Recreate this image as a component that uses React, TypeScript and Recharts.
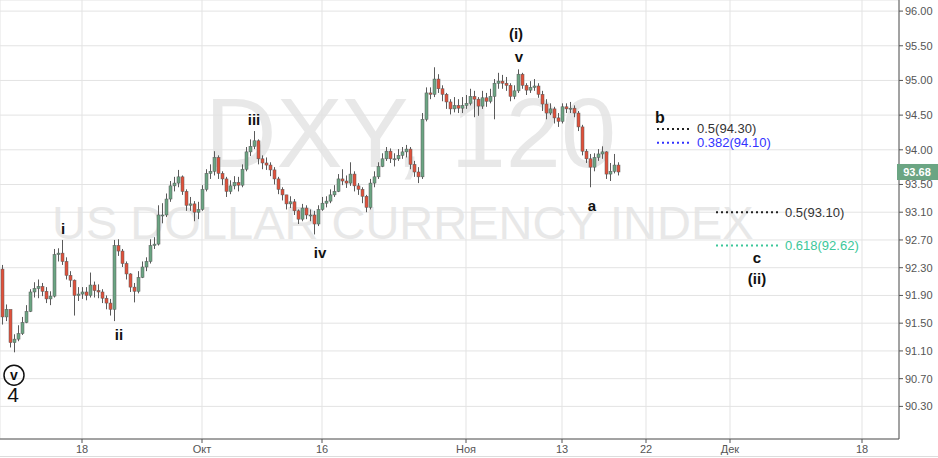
import {
  Bar,
  CartesianGrid,
  ComposedChart,
  ReferenceDot,
  ReferenceLine,
  XAxis,
  YAxis,
} from "recharts";

// DXY, 120 — candles resampled to one per third of a trading day
const OPEN = [
  92.28, 91.59, 91.7, 91.22, 91.27, 91.35, 91.51, 91.67, 91.95, 92.0,
  92.03, 91.96, 91.85, 91.89, 92.49, 92.51, 92.39, 92.19, 92.12, 91.9,
  91.92, 91.95, 91.9, 92.05, 91.97, 91.95, 91.86, 91.79, 91.7, 92.62,
  92.54, 92.36, 92.21, 92.02, 91.96, 92.16, 92.31, 92.39, 92.62, 92.64,
  93.06, 93.06, 93.29, 93.48, 93.52, 93.61, 93.4, 93.2, 93.22, 93.1,
  93.14, 93.43, 93.66, 93.69, 93.89, 93.66, 93.58, 93.4, 93.48, 93.53,
  93.49, 93.72, 93.97, 94.05, 94.13, 93.87, 93.81, 93.78, 93.71, 93.58,
  93.43, 93.35, 93.22, 93.25, 93.12, 93.0, 93.16, 93.06, 93.06, 92.93,
  93.14, 93.23, 93.26, 93.35, 93.4, 93.58, 93.55, 93.52, 93.65, 93.48,
  93.43, 93.33, 93.17, 93.52, 93.61, 93.76, 93.87, 93.98, 93.87, 93.87,
  93.92, 93.97, 94.01, 93.79, 93.68, 93.61, 94.44, 94.82, 94.8, 95.02,
  94.88, 94.8, 94.69, 94.59, 94.64, 94.6, 94.64, 94.67, 94.77, 94.73,
  94.63, 94.75, 94.7, 94.77, 94.96, 94.99, 94.96, 94.93, 94.77, 94.85,
  95.09, 94.93, 94.86, 94.9, 94.92, 94.8, 94.66, 94.53, 94.59, 94.46,
  94.41, 94.62, 94.59, 94.6, 94.53, 94.33, 93.98, 93.87, 93.75, 93.89,
  93.94, 93.97, 93.65, 93.69, 93.78,
];
const HIGH = [
  92.34, 91.77, 91.47, 91.34, 91.47, 91.59, 91.76, 91.99, 92.09, 92.13,
  92.08, 92.02, 91.96, 92.57, 92.58, 92.7, 92.45, 92.25, 92.13, 92.02,
  92.02, 92.02, 92.23, 92.1, 92.06, 91.99, 91.9, 91.85, 92.7, 92.71,
  92.57, 92.39, 92.22, 92.08, 92.25, 92.39, 92.45, 92.71, 92.74, 93.2,
  93.23, 93.37, 93.55, 93.61, 93.71, 93.63, 93.43, 93.32, 93.26, 93.25,
  93.49, 93.72, 93.79, 93.98, 93.92, 93.69, 93.61, 93.56, 93.62, 93.61,
  93.79, 94.04, 94.15, 94.27, 94.15, 93.92, 93.89, 93.82, 93.75, 93.61,
  93.46, 93.35, 93.33, 93.29, 93.14, 93.22, 93.2, 93.14, 93.12, 93.2,
  93.32, 93.33, 93.43, 93.49, 93.65, 93.72, 93.63, 93.82, 93.69, 93.52,
  93.46, 93.35, 93.58, 93.69, 93.82, 93.95, 94.04, 94.02, 93.95, 94.01,
  94.04, 94.07, 94.04, 93.84, 93.75, 94.53, 94.9, 94.9, 95.19, 95.09,
  94.93, 94.82, 94.73, 94.76, 94.73, 94.76, 94.79, 94.88, 94.85, 94.76,
  94.85, 94.82, 94.88, 95.02, 95.11, 95.08, 95.05, 94.96, 94.93, 95.16,
  95.11, 94.96, 94.99, 95.02, 94.96, 94.85, 94.73, 94.67, 94.62, 94.53,
  94.67, 94.67, 94.69, 94.64, 94.56, 94.36, 94.01, 93.94, 93.95, 94.01,
  94.05, 93.98, 93.81, 93.94, 93.82,
];
const LOW = [
  91.48, 91.53, 91.15, 91.08, 91.24, 91.33, 91.5, 91.66, 91.87, 91.86,
  91.89, 91.79, 91.76, 91.87, 92.39, 92.34, 92.13, 92.02, 91.61, 91.82,
  91.85, 91.83, 91.87, 91.87, 91.86, 91.79, 91.7, 91.61, 91.53, 92.47,
  92.31, 92.13, 91.95, 91.8, 91.93, 92.15, 92.25, 92.36, 92.57, 92.62,
  92.94, 93.03, 93.25, 93.4, 93.46, 93.35, 93.12, 93.12, 92.97, 93.0,
  93.12, 93.4, 93.58, 93.63, 93.58, 93.49, 93.32, 93.36, 93.43, 93.4,
  93.46, 93.69, 93.91, 94.01, 93.79, 93.72, 93.71, 93.62, 93.5, 93.36,
  93.27, 93.14, 93.16, 93.06, 92.93, 92.97, 93.0, 92.97, 92.78, 92.9,
  93.12, 93.17, 93.23, 93.32, 93.39, 93.49, 93.45, 93.48, 93.4, 93.35,
  93.23, 93.1, 93.14, 93.46, 93.58, 93.75, 93.84, 93.81, 93.76, 93.84,
  93.87, 93.89, 93.72, 93.61, 93.52, 93.58, 94.41, 94.73, 94.76, 94.82,
  94.7, 94.59, 94.51, 94.54, 94.53, 94.53, 94.59, 94.64, 94.47, 94.49,
  94.59, 94.62, 94.67, 94.44, 94.88, 94.88, 94.85, 94.7, 94.73, 94.82,
  94.88, 94.79, 94.82, 94.85, 94.75, 94.56, 94.44, 94.5, 94.38, 94.33,
  94.38, 94.53, 94.53, 94.47, 94.27, 93.92, 93.81, 93.46, 93.69, 93.84,
  93.87, 93.58, 93.55, 93.66, 93.63,
];
const CLOSE = [
  91.59, 91.7, 91.22, 91.27, 91.35, 91.51, 91.67, 91.95, 92.0, 92.03,
  91.96, 91.85, 91.89, 92.49, 92.51, 92.39, 92.19, 92.12, 91.9, 91.92,
  91.95, 91.9, 92.05, 91.97, 91.95, 91.86, 91.79, 91.7, 92.62, 92.54,
  92.36, 92.21, 92.02, 91.96, 92.16, 92.31, 92.39, 92.62, 92.64, 93.06,
  93.06, 93.29, 93.48, 93.52, 93.61, 93.4, 93.2, 93.22, 93.1, 93.14,
  93.43, 93.66, 93.69, 93.89, 93.66, 93.58, 93.4, 93.48, 93.53, 93.49,
  93.72, 93.97, 94.05, 94.13, 93.87, 93.81, 93.78, 93.71, 93.58, 93.43,
  93.35, 93.22, 93.25, 93.12, 93.0, 93.16, 93.06, 93.06, 92.93, 93.14,
  93.23, 93.26, 93.35, 93.4, 93.58, 93.55, 93.52, 93.65, 93.48, 93.43,
  93.33, 93.17, 93.52, 93.61, 93.76, 93.87, 93.98, 93.87, 93.87, 93.92,
  93.97, 94.01, 93.79, 93.68, 93.61, 94.44, 94.82, 94.8, 95.02, 94.88,
  94.8, 94.69, 94.59, 94.64, 94.6, 94.64, 94.67, 94.77, 94.73, 94.63,
  94.75, 94.7, 94.77, 94.96, 94.99, 94.96, 94.93, 94.77, 94.85, 95.09,
  94.93, 94.86, 94.9, 94.92, 94.8, 94.66, 94.53, 94.59, 94.46, 94.41,
  94.62, 94.59, 94.6, 94.53, 94.33, 93.98, 93.87, 93.75, 93.89, 93.94,
  93.97, 93.65, 93.69, 93.78, 93.68,
];

const X_TICKS = [20, 50, 80, 116, 140, 161, 182, 215];
const X_TICK_LABELS = ["18", "Окт", "16", "Ноя", "13", "22", "Дек", "18"];
const Y_TICKS = [
  90.3, 90.7, 91.1, 91.5, 91.9, 92.3, 92.7, 93.1, 93.5, 94.0, 94.5, 95.0,
  95.5, 96.0,
];

// Elliott wave marks (bar index, price)
const WAVE_TEXT = ["i", "ii", "iii", "iv", "(i)", "v", "a", "b", "c", "(ii)"];
const WAVE_X = [15.25, 29.25, 63, 79.5, 128.5, 129.25, 147.5, 164.5, 188.75, 188.75];
const WAVE_Y = [92.87, 91.34, 94.43, 92.52, 95.67, 95.34, 93.2, 94.47, 92.45, 92.15];

// fib targets
const FIB_TEXT = ["0.5(94.30)", "0.382(94.10)", "0.5(93.10)", "0.618(92.62)"];
const FIB_LEVEL = [94.3, 94.1, 93.1, 92.62];
const FIB_FROM = [163.75, 163.75, 178.5, 178.5];
const FIB_TO = [172, 172, 194.25, 194.25];
const FIB_LABEL_AT = [173.75, 173.75, 195.75, 195.75];

const FIB_COLORS = ["#222222", "#3333ff", "#222222", "#3cc79a"];
const UP = "#6ba583";
const DOWN = "#e0513b";
const WICK = "#5a5a5a";
const FONT = "'Liberation Sans', Arial, sans-serif";

const candles = CLOSE.map((close, i) => ({
  i,
  open: OPEN[i],
  high: HIGH[i],
  low: LOW[i],
  close,
  range: [LOW[i], HIGH[i]],
}));

const lastClose = CLOSE[CLOSE.length - 1];

function Candle(props: any) {
  const { x, y, width, height, payload } = props;
  if (!payload) return null;
  const { open, close, high, low } = payload;
  const top = Math.min(y, y + height);
  const h = Math.abs(height);
  const k = high === low ? 0 : h / (high - low);
  const yo = top + (high - open) * k;
  const yc = top + (high - close) * k;
  const cx = Math.round(x + width / 2) + 0.5;
  return (
    <g>
      <line x1={cx} x2={cx} y1={top} y2={top + h} stroke={WICK} strokeWidth={1} />
      <rect
        x={cx - 1.5}
        y={Math.min(yo, yc)}
        width={3}
        height={Math.max(1, Math.abs(yo - yc))}
        fill={close >= open ? UP : DOWN}
        stroke={WICK}
        strokeWidth={0.5}
      />
    </g>
  );
}

export default function App() {
  return (
    <div style={{ position: "absolute", left: 0, top: 0, width: 938, height: 458, background: "#fff" }}>
      <svg width={938} height={458} style={{ position: "absolute", left: 0, top: 0 }}>
        <text x={205} y={167} fontSize={99} fill="#e8e8e8" fontFamily={FONT}>
          DXY, 120
        </text>
        <text x={52} y={239} fontSize={47} fill="#e8e8e8" fontFamily={FONT}>
          US DOLLAR CURRENCY INDEX
        </text>
        <line x1={0} x2={938} y1={456.5} y2={456.5} stroke="#dddddd" />
      </svg>
      <div style={{ position: "absolute", left: 0, top: 0 }}>
        <ComposedChart
          width={938}
          height={458}
          data={candles}
          margin={{ top: 0, right: 0, bottom: 0, left: 0 }}
        >
          <CartesianGrid stroke="#e3e3e3" />
          <XAxis
            dataKey="i"
            type="number"
            domain={[-0.5, 224.25]}
            allowDataOverflow
            ticks={X_TICKS}
            tickFormatter={(v) => X_TICK_LABELS[X_TICKS.indexOf(v)] ?? ""}
            height={19}
            tickSize={4}
            tickMargin={2}
            stroke="#555"
            tick={{ fill: "#555", fontSize: 11, fontFamily: FONT }}
          />
          <YAxis
            orientation="right"
            type="number"
            domain={[89.83, 96.16]}
            allowDataOverflow
            ticks={Y_TICKS}
            tickFormatter={(v) => v.toFixed(2)}
            width={39}
            tickSize={4}
            tickMargin={2}
            stroke="#555"
            tick={{ fill: "#555", fontSize: 11, fontFamily: FONT }}
          />
          <Bar
            dataKey="range"
            barSize={3}
            shape={<Candle />}
            isAnimationActive={false}
          />
          {FIB_LEVEL.map((lvl, k) => (
            <ReferenceLine
              key={"fl" + k}
              segment={[
                { x: FIB_FROM[k], y: lvl },
                { x: FIB_TO[k], y: lvl },
              ]}
              stroke={FIB_COLORS[k]}
              strokeWidth={2}
              strokeDasharray="2 3"
            />
          ))}
          {FIB_LEVEL.map((lvl, k) => (
            <ReferenceDot
              key={"ft" + k}
              x={FIB_LABEL_AT[k]}
              y={lvl}
              r={0}
              shape={(p: any) => (
                <text
                  x={p.cx}
                  y={p.cy}
                  dominantBaseline="central"
                  fontSize={13}
                  fontFamily={FONT}
                  fill={FIB_COLORS[k] === "#222222" ? "#333" : FIB_COLORS[k]}
                >
                  {FIB_TEXT[k]}
                </text>
              )}
            />
          ))}
          {WAVE_TEXT.map((t, k) => (
            <ReferenceDot
              key={"w" + k}
              x={WAVE_X[k]}
              y={WAVE_Y[k]}
              r={0}
              shape={(p: any) => (
                <text
                  x={p.cx}
                  y={p.cy}
                  textAnchor="middle"
                  dominantBaseline="central"
                  fontSize={t === "b" ? 16 : 15}
                  fontWeight="bold"
                  fontFamily={FONT}
                  fill="#111"
                >
                  {t}
                </text>
              )}
            />
          ))}
          <ReferenceDot
            x={3}
            y={90.75}
            r={0}
            shape={(p: any) => (
              <g>
                <circle cx={p.cx} cy={p.cy} r={10} fill="none" stroke="#111" strokeWidth={1.5} />
                <text
                  x={p.cx}
                  y={p.cy}
                  textAnchor="middle"
                  dominantBaseline="central"
                  fontSize={14}
                  fontWeight="bold"
                  fontFamily={FONT}
                  fill="#111"
                >
                  v
                </text>
                <text
                  x={p.cx - 1}
                  y={p.cy + 19}
                  textAnchor="middle"
                  dominantBaseline="central"
                  fontSize={21}
                  fontFamily={FONT}
                  fill="#111"
                >
                  4
                </text>
              </g>
            )}
          />
          <ReferenceDot
            x={224.25}
            y={lastClose}
            r={0}
            shape={(p: any) => (
              <g>
                <rect x={p.cx - 2} y={p.cy - 8} width={41} height={16} fill={UP} />
                <text
                  x={p.cx + 18}
                  y={p.cy}
                  textAnchor="middle"
                  dominantBaseline="central"
                  fontSize={11}
                  fontWeight="bold"
                  fontFamily={FONT}
                  fill="#fff"
                >
                  {lastClose.toFixed(2)}
                </text>
              </g>
            )}
          />
        </ComposedChart>
      </div>
    </div>
  );
}
